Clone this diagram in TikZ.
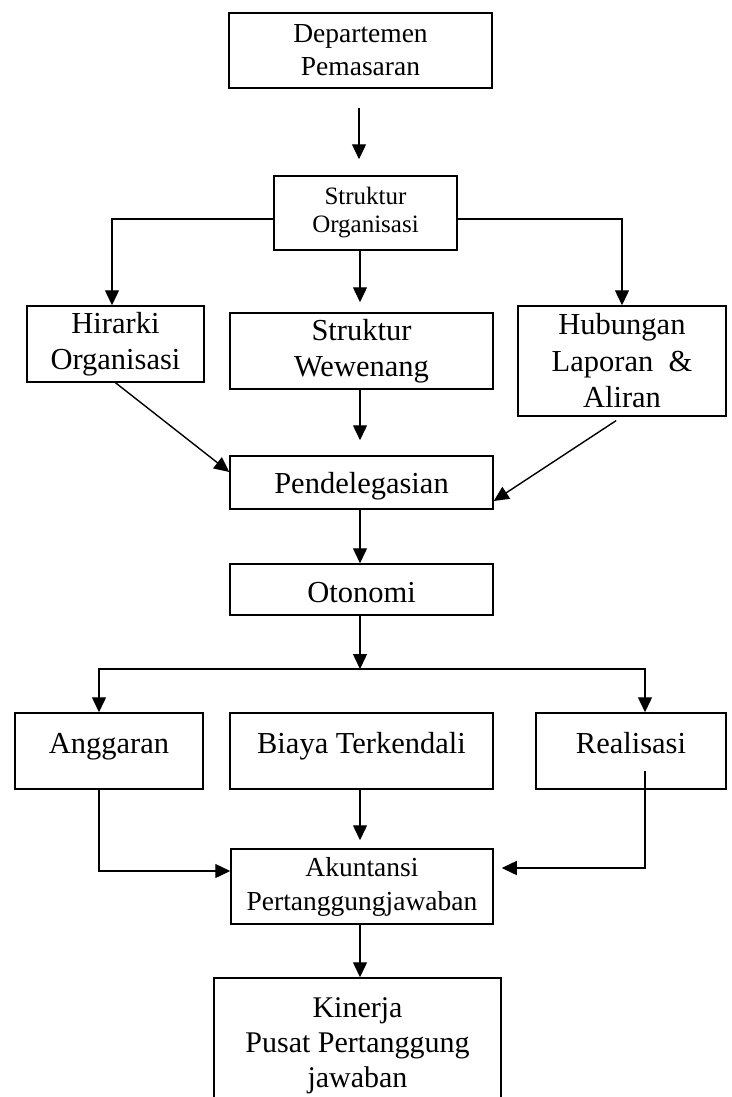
\documentclass[tikz,border=0pt]{standalone}
\usepackage{fontspec}
\setmainfont{Liberation Serif}
\usetikzlibrary{arrows.meta,calc}
\begin{document}
\begin{tikzpicture}[x=1pt,y=-1pt,
  box/.style={draw,line width=1.5pt,inner sep=0pt,align=center,font=\fontsize{30.5}{36.5}\selectfont},
  arr/.style={line width=1.4pt,-{Triangle[length=15pt,width=14pt]}},
  ln/.style={line width=1.4pt}]
\useasboundingbox (0,0) rectangle (731,1097);
\clip (0,0) rectangle (731,1097);
% nodes
\node[box,minimum width=263pt,minimum height=75pt,font=\fontsize{27.5}{33}\selectfont] (dep) at (360.5,50.5) {Departemen\\Pemasaran};
\node[box,minimum width=183pt,minimum height=74pt,font=\fontsize{25}{28}\selectfont] (so) at (365.5,213) {Struktur\\Organisasi};
\node[box,minimum width=177pt,minimum height=76pt] (hir) at (115.5,344) {Hirarki\\Organisasi};
\node[box,minimum width=263pt,minimum height=76pt] (ww) at (361.5,351) {Struktur\\Wewenang};
\node[box,minimum width=208pt,minimum height=110pt] (hub) at (622,361) {Hubungan\\Laporan \ \&\\Aliran};
\node[box,minimum width=263pt,minimum height=53pt,text height=21pt,text depth=0pt] (pend) at (361.5,482.5) {Pendelegasian};
\node[box,minimum width=263pt,minimum height=51pt,text height=25pt,text depth=0pt] (oto) at (361.5,589.5) {Otonomi};
\node[box,minimum width=188pt,minimum height=76pt,text height=20pt,text depth=16pt] (ang) at (109,751) {Anggaran};
\node[box,minimum width=263pt,minimum height=76pt,text height=20pt,text depth=16pt] (bt) at (361.5,751) {Biaya Terkendali};
\node[box,minimum width=190pt,minimum height=76pt,text height=20pt,text depth=16pt] (real) at (631,751) {Realisasi};
\node[box,minimum width=262pt,minimum height=75pt,font=\fontsize{27.5}{34}\selectfont] (ak) at (362,886.5) {Akuntansi\\Pertanggungjawaban};
\node[box,minimum width=287pt,minimum height=136pt,font=\fontsize{30}{35}\selectfont] (kin) at (357.5,1046) {Kinerja\\Pusat Pertanggung\\jawaban};
\coordinate (split) at (360,669);
% connectors
\draw[arr,shorten <=19pt,shorten >=16pt] ([xshift=-1.5pt]dep.south) -- ([xshift=-1.5pt]dep.south |- so.north);
\draw[arr] ([yshift=-6pt]so.west) -| ([xshift=-3.5pt]hir.north);
\draw[arr] ([yshift=-6pt]so.east) -| (hub.north);
\draw[arr,shorten >=10pt] ([xshift=-1.5pt]ww.north |- so.south) -- ([xshift=-1.5pt]ww.north);
\draw[arr] (hir.south) -- ([yshift=10.5pt]pend.west);
\draw[arr,shorten <=7pt] (hub.south) -- ([yshift=-18.5pt]pend.east);
\draw[arr,shorten >=15pt] ([xshift=-1.5pt]ww.south) -- ([xshift=-1.5pt]ww.south |- pend.north);
\draw[arr] ([xshift=-1.5pt]pend.south) -- ([xshift=-1.5pt]oto.north);
\draw[arr] ([xshift=-1.5pt]oto.south) -- (split);
\draw[arr] (split) -| ([xshift=-10pt]ang.north);
\draw[arr] (split) -| ([xshift=14pt]real.north);
\draw[arr] ([xshift=-10pt]ang.south) |- ([yshift=15.5pt]ak.west);
\draw[arr,shorten >=8pt] ([xshift=-1.5pt]bt.south) -- ([xshift=-1.5pt]bt.south |- ak.north);
\draw[arr,shorten >=8pt] ([xshift=14pt,yshift=-20pt]real.center) |- ([yshift=18.5pt]ak.east);
\draw[arr] ([xshift=-2pt]ak.south) -- ([xshift=-2pt]ak.south |- kin.north);
\end{tikzpicture}
\end{document}
